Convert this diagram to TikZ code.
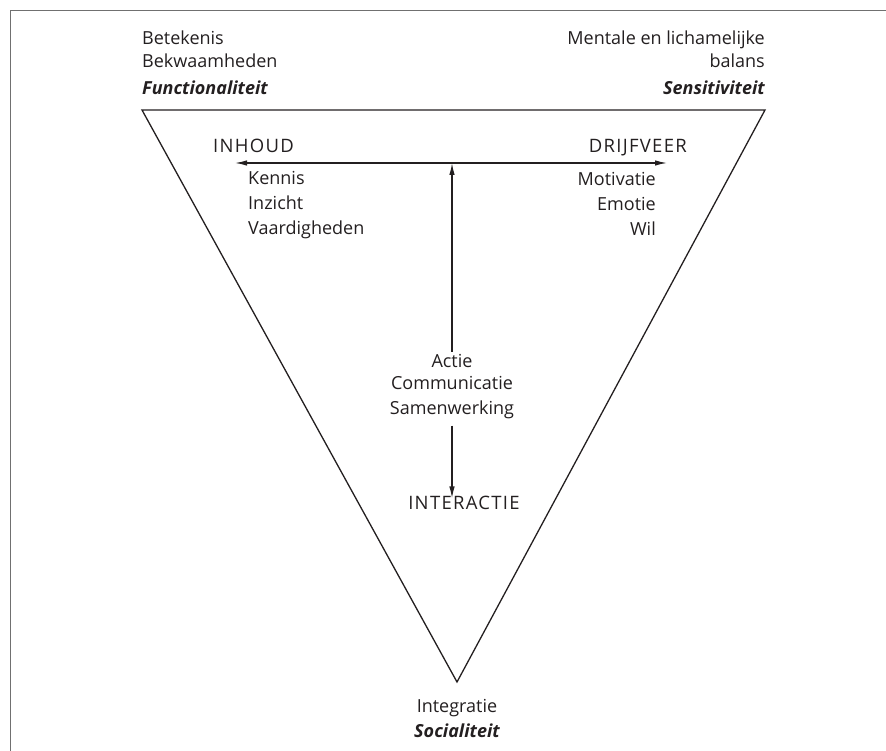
\documentclass[tikz,border=0pt]{standalone}
\usepackage{fontspec}
\setmainfont{Open Sans}
\usetikzlibrary{arrows.meta}

\definecolor{framegray}{RGB}{112,112,112}
\definecolor{ink}{RGB}{35,31,32}

\begin{document}
\begin{tikzpicture}[
  x=1pt, y=-1pt,
  txt/.style={font=\fontsize{18}{24}\selectfont, text=ink, inner sep=0pt},
  caps/.style={txt, font=\fontsize{18.5}{24}\selectfont\addfontfeatures{LetterSpace=7}},
  kind/.style={txt, font=\fontsize{18}{24}\selectfont\bfseries\itshape},
  edge/.style={draw=ink, line width=1.3pt, line join=miter},
  arrow/.style={draw=ink, line width=1.3pt, -{Latex[length=12pt,width=5.5pt]}},
  dblarrow/.style={draw=ink, line width=1.3pt, {Latex[length=12pt,width=5.5pt]}-{Latex[length=12pt,width=5.5pt]}}
]
\useasboundingbox (0,0) rectangle (886,751);

% Frame
\draw[framegray, line width=1.8pt] (10.5,751) -- (10.5,10.5) -- (886,10.5);

% Corners
\coordinate (tl) at (142,110);
\coordinate (tr) at (765,110);
\coordinate (bt) at (457,682);
\draw[edge] (tl) -- (tr) -- (bt) -- cycle;

% Corner texts
\node[txt, anchor=base west] (betekenis) at (142,45) {Betekenis};
\node[txt, anchor=base west] (bekwaam) at (142,68) {Bekwaamheden};
\node[kind, anchor=base west] (functionaliteit) at (142,95) {Functionaliteit};

\node[txt, anchor=base east] (mentale) at (765,45) {Mentale en lichamelijke};
\node[txt, anchor=base east] (balans) at (765,68) {balans};
\node[kind, anchor=base east] (sensitiviteit) at (765,95) {Sensitiviteit};

\node[txt, anchor=base] (integratie) at (457,712) {Integratie};
\node[kind, anchor=base] (socialiteit) at (457,737) {Socialiteit};

% Inner texts
\node[caps, anchor=base west] (inhoud) at (213,153) {INHOUD};
\node[caps, anchor=base east] (drijfveer) at (687,153) {DRIJFVEER};

\node[txt, anchor=base west] (kennis) at (248,185) {Kennis};
\node[txt, anchor=base west] (inzicht) at (248,210) {Inzicht};
\node[txt, anchor=base west] (vaardig) at (248,235) {Vaardigheden};

\node[txt, anchor=base east] (motivatie) at (656,186) {Motivatie};
\node[txt, anchor=base east] (emotie) at (656,211) {Emotie};
\node[txt, anchor=base east] (wil) at (656,236) {Wil};

\node[txt, anchor=base] (actie) at (452,367) {Actie};
\node[txt, anchor=base] (communicatie) at (452,389) {Communicatie};
\node[txt, anchor=base] (samenwerking) at (452,414) {Samenwerking};
\node[caps, anchor=base] (interactie) at (464,509) {INTERACTIE};

% Arrows
\coordinate (inhtip) at (235,163);
\coordinate (drftip) at (667,163);
\draw[dblarrow] (inhtip) -- (drftip);

\draw[arrow] (actie.north) ++(0,-2) -- (actie |- drftip);
\draw[arrow] (samenwerking.south) ++(0,7) -- ([yshift=-3pt]samenwerking |- interactie.north);

\end{tikzpicture}
\end{document}
